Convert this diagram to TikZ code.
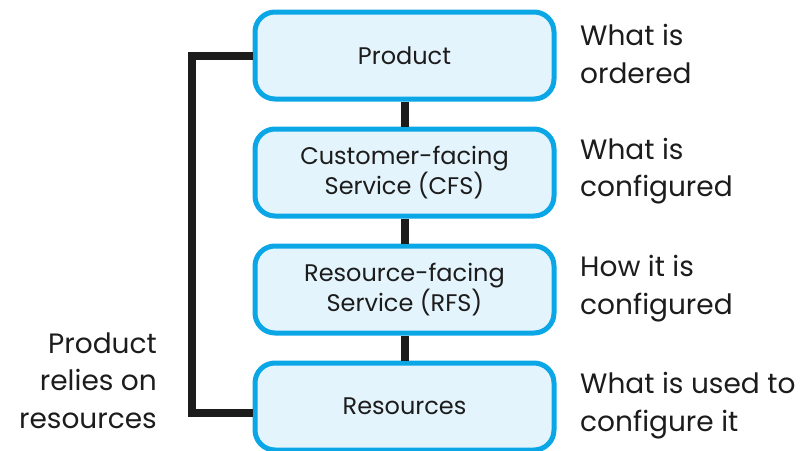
\documentclass[tikz,border=0pt]{standalone}
\usepackage{fontspec}
\setmainfont{Poppins}
\usetikzlibrary{calc}
\definecolor{boxline}{HTML}{0AA6E6}
\definecolor{boxfill}{HTML}{E4F4FC}
\definecolor{ink}{HTML}{1C1C1C}
\begin{document}
\begin{tikzpicture}[x=1pt,y=-1pt,
  stepbox/.style={draw=boxline, fill=boxfill, line width=5pt, rounded corners=20pt,
    minimum width=299pt, minimum height=87pt, align=center, text=ink,
    font=\fontsize{24}{28}\selectfont},
  sidetext/.style={text=ink, font=\fontsize{28}{37.5}\selectfont, inner sep=0pt},
  link/.style={draw=ink, line width=8pt}]
\useasboundingbox (0,0) rectangle (803,450);
\node[stepbox] (prod) at (404.5,55.5) {Product};
\node[stepbox] (cfs) at (404.5,172.5) {Customer-facing\\Service (CFS)};
\node[stepbox] (rfs) at (404.5,289.5) {Resource-facing\\Service (RFS)};
\node[stepbox] (res) at (404.5,406.5) {Resources};
\node[sidetext, anchor=west, align=left] (t1) at (580,54) {What is\\ordered};
\node[sidetext, anchor=west, align=left] (t2) at (580,171) {What is\\configured};
\node[sidetext, anchor=west, align=left] (t3) at (580,288.5) {How it is\\configured};
\node[sidetext, anchor=west, align=left] (t4) at (580,405.5) {What is used to\\configure it};
\node[sidetext, anchor=east, align=right] (tl) at (157,380.5) {Product\\relies on\\resources};
\coordinate (bl) at (191.5,0);
\draw[link, line join=miter] (prod.west) -- (prod.west -| bl) -- ($(res.west -| bl)+(0,6.5)$) -- ($(res.west)+(0,6.5)$);
\draw[link] (prod.south) -- (cfs.north);
\draw[link] (cfs.south) -- (rfs.north);
\draw[link] (rfs.south) -- (res.north);
\end{tikzpicture}
\end{document}
